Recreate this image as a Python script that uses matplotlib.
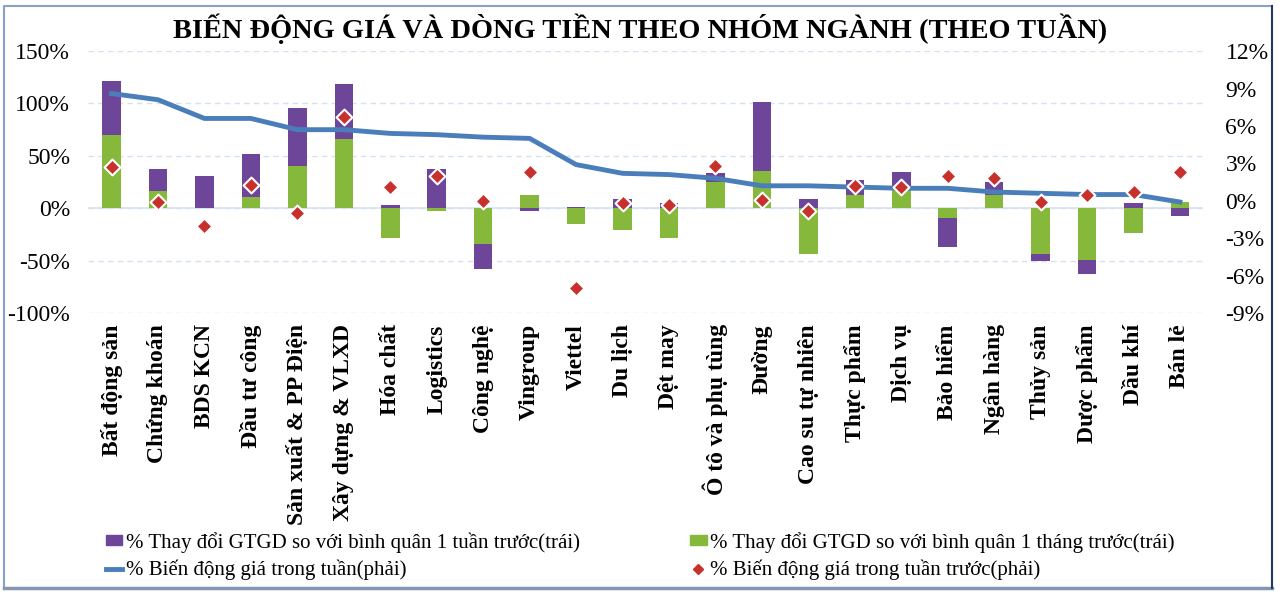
import numpy as np
import matplotlib.pyplot as plt
from matplotlib.patches import Rectangle
from matplotlib.lines import Line2D
from matplotlib.ticker import FuncFormatter, MultipleLocator

# data
sectors = ["Bất động sản", "Chứng khoán", "BDS KCN", "Đầu tư công",
           "Sản xuất & PP Điện", "Xây dựng & VLXD", "Hóa chất", "Logistics",
           "Công nghệ", "Vingroup", "Viettel", "Du lịch", "Dệt may",
           "Ô tô và phụ tùng", "Đường", "Cao su tự nhiên", "Thực phẩm",
           "Dịch vụ", "Bảo hiểm", "Ngân hàng", "Thủy sản", "Dược phẩm",
           "Dầu khí", "Bán lẻ"]
gtgd_week = [121, 37, 31, 52, 96, 119, 3, 37, -58, -3, 1, 9, 5, 34,
             101, 9, 27, 35, -37, 25, -50, -63, 5, -7]
gtgd_month = [70, 16, 0, 11, 40, 66, -28, -3, -34, 13, -15, -21, -28, 25,
              36, -44, 13, 18, -9, 13, -44, -49, -24, 6]
price_week = [8.6, 8.1, 6.6, 6.6, 5.7, 5.7, 5.4, 5.3, 5.1, 5.0, 2.9, 2.2,
              2.1, 1.8, 1.2, 1.2, 1.1, 1.0, 1.0, 0.7, 0.6, 0.5, 0.5, -0.1]
price_prev_week = [2.7, -0.1, -2.0, 1.3, -1.0, 6.7, 1.1, 2.0, 0.0, 2.3,
                   -7.0, -0.2, -0.3, 2.8, 0.1, -0.8, 1.2, 1.1, 2.0, 1.8,
                   -0.1, 0.5, 0.7, 2.3]

purple = "#6e4699"
green = "#86b83c"
blue = "#4a7ebb"
red = "#c8302c"

plt.rcParams['font.family'] = ['Liberation Serif', 'DejaVu Serif']

fig = plt.figure(figsize=(12.8, 5.94), dpi=100)
ax = fig.add_axes([0.069, 0.473, 0.871, 0.441])
x = np.arange(len(sectors))

ax.bar(x, gtgd_week, width=0.4, color=purple, zorder=2)
ax.bar(x, gtgd_month, width=0.4, color=green, zorder=3)

ax.set_xlim(-0.5, len(sectors) - 0.5)
ax.set_ylim(-100, 150)
ax.yaxis.set_major_locator(MultipleLocator(50))
ax.yaxis.set_major_formatter(FuncFormatter(lambda v, p: f"{v:.0f}%"))
ax.grid(axis='y', color='#d5e1f0', linestyle=(0, (4, 3)), linewidth=1, zorder=0)
ax.axhline(0, color='#d5e1f0', linewidth=1.2, zorder=1)
ax.set_xticks(x)
ax.set_xticklabels(sectors, rotation=90, fontsize=16, fontweight='bold')
ax.tick_params(axis='both', length=0, labelsize=17)
ax.tick_params(axis='y', pad=13)
ax.tick_params(axis='x', pad=8)
for s in ax.spines.values():
    s.set_visible(False)

ax2 = ax.twinx()
ax2.plot(x, price_week, color=blue, linewidth=3.5, zorder=4)
ax2.scatter(x, price_prev_week, marker='D', s=65, color=red,
            edgecolors='white', linewidths=1.5, zorder=5)
ax2.set_ylim(-9, 12)
ax2.yaxis.set_major_locator(MultipleLocator(3))
ax2.yaxis.set_major_formatter(FuncFormatter(lambda v, p: f"{v:.0f}%"))
ax2.tick_params(axis='y', length=0, labelsize=17, pad=16)
for s in ax2.spines.values():
    s.set_visible(False)

fig.text(0.5, 0.952, "BIẾN ĐỘNG GIÁ VÀ DÒNG TIỀN THEO NHÓM NGÀNH (THEO TUẦN)",
         ha='center', va='center', fontsize=20.4, fontweight='bold')

handles = [
    Rectangle((0, 0), 1, 1, color=purple),
    Line2D([], [], color=blue, linewidth=3.5),
    Rectangle((0, 0), 1, 1, color=green),
    Line2D([], [], marker='D', linestyle='none', color=red, markersize=5),
]
labels = [
    "% Thay đổi GTGD so với bình quân 1 tuần trước(trái)",
    "% Biến động giá trong tuần(phải)",
    "% Thay đổi GTGD so với bình quân 1 tháng trước(trái)",
    "% Biến động giá trong tuần trước(phải)",
]
fig.legend(handles, labels, ncol=2, loc='center left',
           bbox_to_anchor=(0.068, 0.064), frameon=False, fontsize=15,
           handlelength=0.8, handleheight=0.4, handletextpad=0.15,
           columnspacing=5.3, labelspacing=0.35)

# outer chart frame
fig.add_artist(Line2D([0.003, 0.003, 0.994], [0.01, 0.99, 0.99],
                      transform=fig.transFigure, color='#8aa0c8', linewidth=1.5))
fig.add_artist(Line2D([0.003, 0.994], [0.01, 0.01],
                      transform=fig.transFigure, color='#8497b0', linewidth=2.5))
fig.add_artist(Line2D([0.994, 0.994], [0.01, 0.99],
                      transform=fig.transFigure, color='#1f3864', linewidth=1.5))

fig.savefig("out.png", dpi=100)
